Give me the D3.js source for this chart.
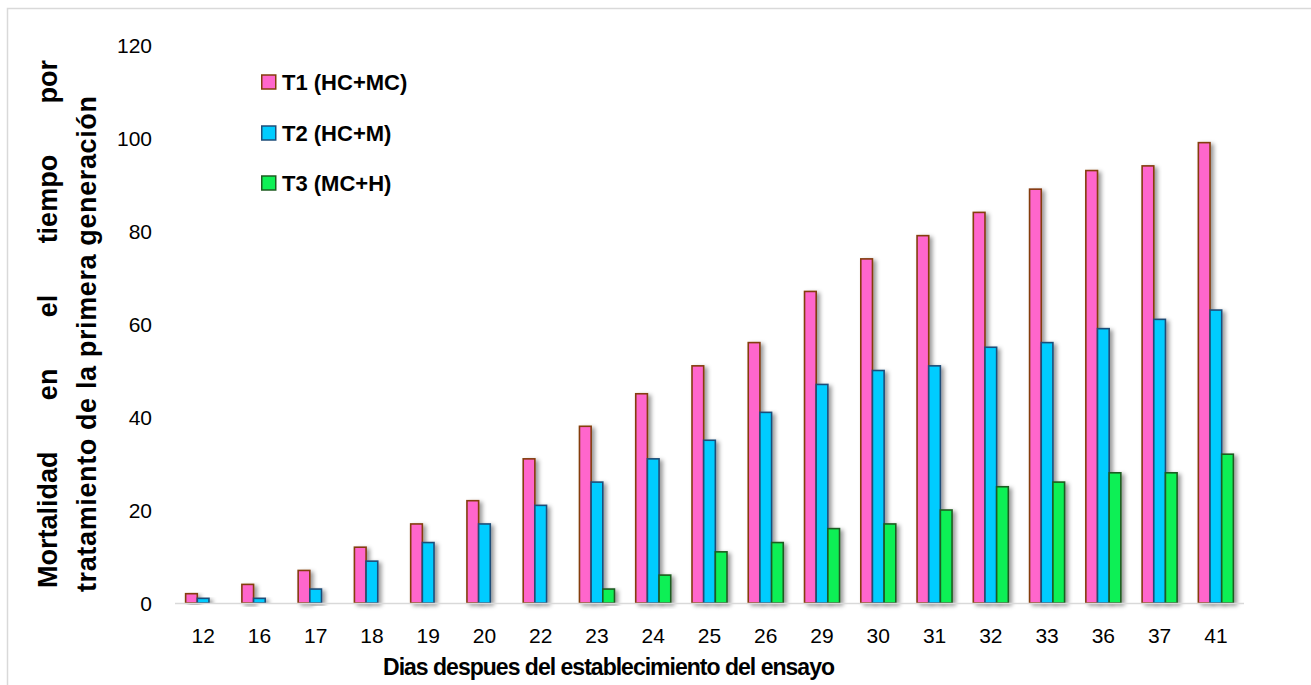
<!DOCTYPE html>
<html>
<head>
<meta charset="utf-8">
<script src="https://cdn.jsdelivr.net/npm/d3@7"></script>
<style>
  html, body { margin: 0; padding: 0; background: #fff; }
  svg { display: block; }
  text { font-family: "Liberation Sans", Arial, sans-serif; fill: #000; }
</style>
</head>
<body>
<svg id="chart" width="1311" height="685"></svg>
<script>
const categories = ["12","16","17","18","19","20","22","23","24","25","26","29","30","31","32","33","36","37","41"];
const seriesNames = ["T1 (HC+MC)", "T2 (HC+M)", "T3 (MC+H)"];
const t1 = [2,4,7,12,17,22,31,38,45,51,56,67,74,79,84,89,93,94,99];
const t2 = [1,1,3,9,13,17,21,26,31,35,41,47,50,51,55,56,59,61,63];
const t3 = [0,0,0,0,0,0,0,3,6,11,13,16,17,20,25,26,28,28,32];
const yTicks = [0,20,40,60,80,100,120];
const xTitle = "Dias despues del establecimiento del ensayo";
const yTitleLine1 = ["Mortalidad","en","el","tiempo","por"];
const yTitleLine2 = "tratamiento de la primera generación";

const fills = ["#FF66CC", "#00CCFF", "#0FF055"];
const strokes = ["#843C0C", "#1F4E79", "#1E5C20"];
const seriesValues = [t1, t2, t3];

const svg = d3.select("#chart");

// shadow filter
const defs = svg.append("defs");
const f = defs.append("filter").attr("id","shadow").attr("x","-50%").attr("y","-10%").attr("width","220%").attr("height","130%");
f.append("feDropShadow").attr("dx",3).attr("dy",2).attr("stdDeviation",2.2)
  .attr("flood-color","#000").attr("flood-opacity",0.4);

// chart border
svg.append("rect").attr("x",7.5).attr("y",8.5).attr("width",1400).attr("height",800)
  .attr("fill","none").attr("stroke","#D9D9D9").attr("stroke-width",1.5);

const x0 = d3.scaleBand().domain(categories).range([175, 1244]).paddingInner(0.378).paddingOuter(0.189);
const x1 = d3.scaleBand().domain(d3.range(3)).range([0, x0.bandwidth()]);
const y = d3.scaleLinear().domain([0,120]).range([603, 45]);

// bars
const groups = svg.append("g").selectAll("g").data(categories).join("g")
  .attr("transform", d => `translate(${x0(d)},0)`);
groups.selectAll("rect")
  .data((c, i) => seriesValues.map((vals, s) => ({s, v: vals[i]})).filter(d => d.v > 0))
  .join("rect")
  .attr("x", d => x1(d.s))
  .attr("y", d => y(d.v))
  .attr("width", x1.bandwidth())
  .attr("height", d => y(0) - y(d.v))
  .attr("fill", d => fills[d.s])
  .attr("stroke", d => strokes[d.s])
  .attr("stroke-width", 1.6)
  .attr("filter", "url(#shadow)");

// x axis line
svg.append("line").attr("x1",175).attr("x2",1244).attr("y1",y(0)+0.5).attr("y2",y(0)+0.5)
  .attr("stroke","#D9D9D9").attr("stroke-width",1.5);

// x axis tick labels
const xAxis = d3.axisBottom(x0).tickSize(0).tickPadding(0);
const gx = svg.append("g").attr("transform", `translate(0,${y(0)})`).call(xAxis);
gx.select(".domain").remove();
gx.selectAll("text").attr("y", 40).attr("dy", 0)
  .style("font-size","21px").style("font-family","'Liberation Sans', Arial, sans-serif").attr("fill","#000");

// y axis tick labels
const yAxis = d3.axisLeft(y).tickValues(yTicks).tickSize(0).tickPadding(0);
const gy = svg.append("g").attr("transform", "translate(152,0)").call(yAxis);
gy.select(".domain").remove();
gy.selectAll("text").attr("x", 0).attr("dy","0.37em")
  .style("font-size","21px").style("font-family","'Liberation Sans', Arial, sans-serif").attr("fill","#000");

// x title
svg.append("text").attr("x",609).attr("y",675).attr("text-anchor","middle")
  .attr("textLength",452).attr("lengthAdjust","spacing")
  .style("font-size","23px").style("font-weight","bold").text(xTitle);

// y title line 1 (justified)
const yStart = 588, yEnd = 60;
const line1 = svg.append("g");
const wordNodes = yTitleLine1.map(w => line1.append("text")
  .style("font-size","27px").style("font-weight","bold").text(w));
const widths = wordNodes.map(n => n.node().getComputedTextLength());
const gap = ((yStart - yEnd) - d3.sum(widths)) / (widths.length - 1);
let pos = yStart;
wordNodes.forEach((n, i) => {
  n.attr("transform", `translate(57,${pos}) rotate(-90)`);
  pos -= widths[i] + gap;
});

// y title line 2
svg.append("text").attr("transform","translate(96,592) rotate(-90)")
  .attr("textLength",496).attr("lengthAdjust","spacing")
  .style("font-size","27px").style("font-weight","bold").text(yTitleLine2);

// legend
const legendY = [82, 133, 183];
const lg = svg.append("g").selectAll("g").data(seriesNames).join("g")
  .attr("transform", (d,i) => `translate(261,${legendY[i]})`);
lg.append("rect").attr("x",0.75).attr("y",-7).attr("width",14).attr("height",14)
  .attr("fill",(d,i)=>fills[i]).attr("stroke",(d,i)=>strokes[i]).attr("stroke-width",1.5);
lg.append("text").attr("x",21).attr("y",0).attr("dy","0.36em")
  .style("font-size","22px").style("font-weight","bold").text(d => d);
</script>
</body>
</html>
